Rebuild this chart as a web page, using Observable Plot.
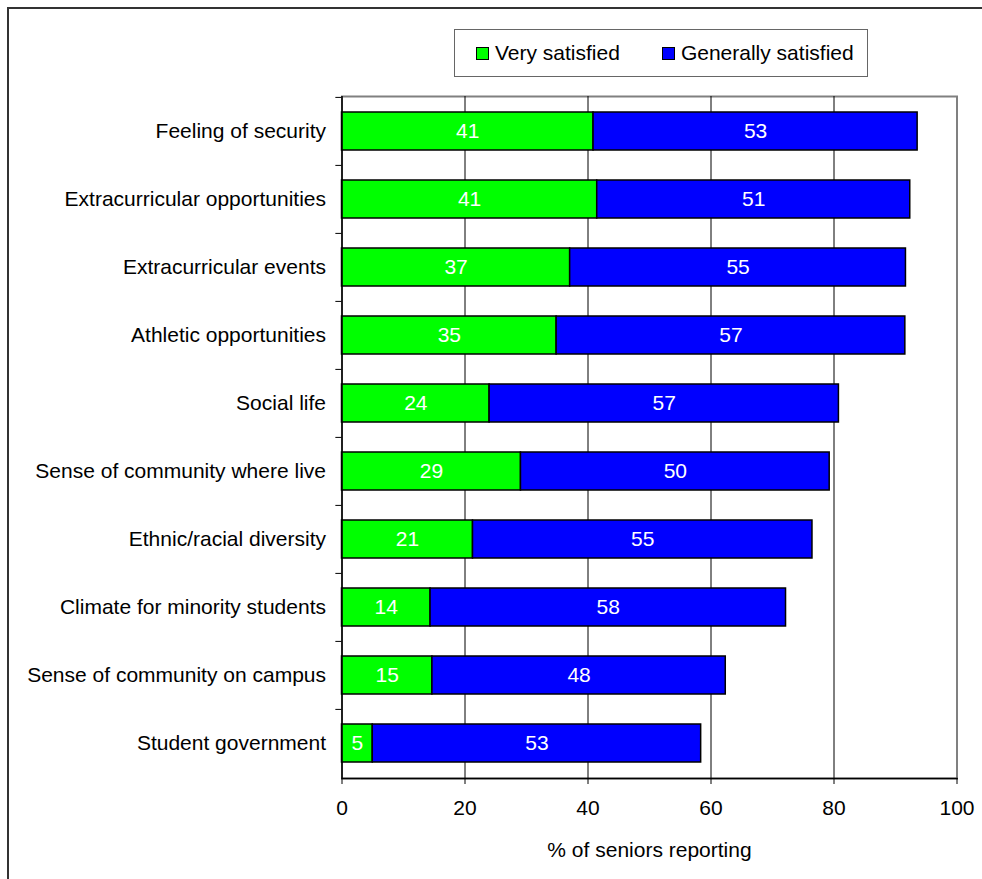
<!DOCTYPE html>
<html><head><meta charset="utf-8">
<script src="https://cdn.jsdelivr.net/npm/d3@7"></script>
<script src="https://cdn.jsdelivr.net/npm/@observablehq/plot@0.6"></script>
<style>
body{margin:0;background:#fff;font-family:"Liberation Sans",Arial,sans-serif;}
#wrap{position:relative;width:982px;height:879px;overflow:hidden;background:#fff;}
#frame{position:absolute;left:7px;top:7px;width:990px;height:900px;border-left:2px solid #333;border-top:2px solid #333;pointer-events:none;}
#top{position:relative;height:88px;}
#legend{position:absolute;left:454px;top:29px;width:412px;height:46px;border:1px solid #666;display:flex;align-items:center;font-size:21px;color:#000;}
.item{display:flex;align-items:center;white-space:nowrap;}
.sw{width:11px;height:11px;border:1px solid #000;margin-right:6px;}
#chart svg{display:block;}
</style></head>
<body><div id="wrap"><div id="top"><div id="legend"></div></div><div id="chart"></div><div id="frame"></div></div>
<script>
const categories = ["Feeling of security","Extracurricular opportunities","Extracurricular events","Athletic opportunities","Social life","Sense of community where live","Ethnic/racial diversity","Climate for minority students","Sense of community on campus","Student government"];
const verySatisfied = [40.9, 41.5, 37.1, 34.9, 24.0, 29.1, 21.3, 14.4, 14.7, 5.0];
const generallySatisfied = [52.7, 50.9, 54.6, 56.7, 56.8, 50.2, 55.2, 57.8, 47.7, 53.4];
const veryLabels = ["41","41","37","35","24","29","21","14","15","5"];
const generallyLabels = ["53","51","55","57","57","50","55","58","48","53"];
const seriesNames = ["Very satisfied","Generally satisfied"];
const seriesColors = ["#00ff00","#0000ff"];
const xTicks = [0,20,40,60,80,100];
const xLabel = "% of seniors reporting";

const rows = [];
categories.forEach((c,i)=>{
  rows.push({category:c, series:seriesNames[0], value:verySatisfied[i], label:veryLabels[i]});
  rows.push({category:c, series:seriesNames[1], value:generallySatisfied[i], label:generallyLabels[i]});
});

// legend
const legend = document.getElementById("legend");
seriesNames.forEach((s,i)=>{
  const it = document.createElement("div");
  it.className="item";
  it.style.marginLeft = i===0 ? "21px" : "42px";
  const sw = document.createElement("div"); sw.className="sw"; sw.style.background=seriesColors[i];
  const t = document.createElement("span"); t.textContent = s;
  it.appendChild(sw); it.appendChild(t); legend.appendChild(it);
});

const W=982, H=791, mTop=8, mBottom=101, mLeft=341.5, mRight=25.5;
const step = (H-mTop-mBottom)/categories.length;
const font = '"Liberation Sans", Arial, sans-serif';

const chart = Plot.plot({
  width:W, height:H, marginTop:mTop, marginBottom:mBottom, marginLeft:mLeft, marginRight:mRight,
  style:{fontFamily:font, fontSize:"21px", color:"#000", background:"#fff", overflow:"visible"},
  x:{domain:[0,100]},
  y:{domain:categories, paddingInner:0.435, paddingOuter:0.2175},
  color:{domain:seriesNames, range:seriesColors},
  marks:[
    Plot.frame({stroke:"#808080", strokeWidth:2}),
    Plot.ruleX(xTicks.slice(1,-1), {stroke:"#000", strokeWidth:1}),
    Plot.barX(rows, Plot.stackX({x:"value", y:"category", fill:"series", stroke:"#000", strokeWidth:1.5})),
    Plot.text(rows, Plot.stackX({x:"value", y:"category", z:"series", text:"label", fill:"#fff", fontSize:21})),
    Plot.ruleY(categories, {y:d=>d, x1:-1, x2:0, dy:-step/2, stroke:"#000"}),
    Plot.axisY({tickSize:0, tickPadding:16, label:null, fontSize:21}),
    Plot.axisX({ticks:xTicks, tickSize:6, tickPadding:16, label:xLabel, labelAnchor:"center", labelOffset:78, labelArrow:"none", fontSize:21}),
    Plot.ruleX([0], {stroke:"#000", strokeWidth:1.5}),
    Plot.frame({anchor:"bottom", stroke:"#000", strokeWidth:1.5})
  ]
});
document.getElementById("chart").appendChild(chart);
</script>
</body></html>
